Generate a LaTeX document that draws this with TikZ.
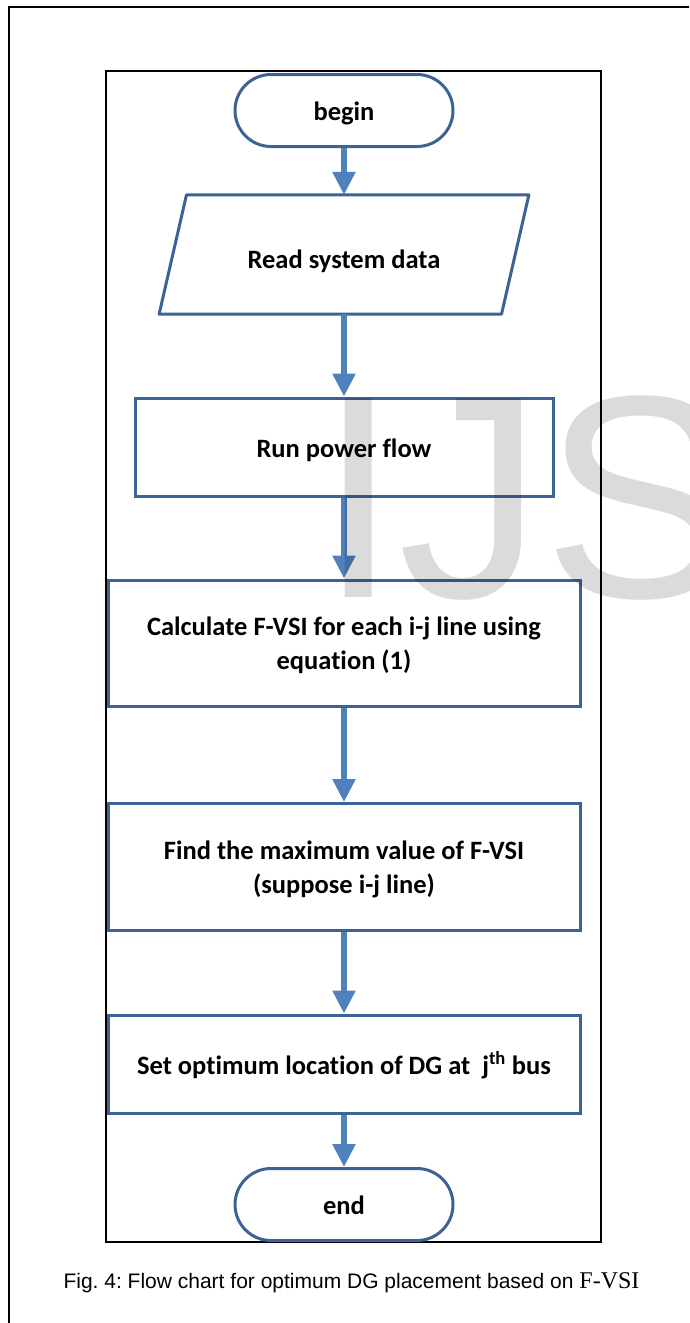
\documentclass[tikz,border=0pt]{standalone}
\usepackage{fontspec}
\setmainfont{Liberation Sans}
\newfontfamily\boxfont{Carlito}[Ligatures=NoCommon]
\newfontfamily\capserif{Liberation Serif}
\usetikzlibrary{arrows.meta}
\definecolor{shapeline}{HTML}{3C6395}
\definecolor{arrowblue}{HTML}{4F81BD}
\frenchspacing

\begin{document}
\begin{tikzpicture}[x=1pt,y=-1pt,
            terminal/.style={draw=shapeline,line width=3,rounded corners=36,minimum width=218,minimum height=72,
            inner sep=0,text height=20pt,text depth=0pt},
            io/.style={rectangle,inner sep=0,minimum width=342,minimum height=119,text height=28pt,text depth=0pt},
            process/.style={rectangle,draw=shapeline,line width=3,inner sep=0,align=center},
            flow/.style={arrowblue,line width=5.5,-{Triangle[width=22pt,length=23pt]}},
            every node/.style={font=\boxfont\bfseries\fontsize{26.5}{34}\selectfont}
            ]
            \def\cx{344}   % centre line of the chart
            \def\wb{472}   % width of the wide boxes
            \def\sk{13.7}  % half the slant of the input box

            \useasboundingbox (0,0) rectangle (689,1323);
            \clip (0,0) rectangle (689,1323);
            % page frame (runs off to the right and below) and the chart frame
            \draw[line width=2] (8.5,1340) |- (700,7);
            \draw[line width=2] (106,71) rectangle (601,1242);

            \node[terminal] (start) at (\cx,110.5) {begin};
            \node[io] (read) at (\cx,254.5) {Read system data};
            \draw[shapeline,line width=3,line join=round] ([xshift=\sk]read.north west) -- ([xshift=\sk]read.north east)
                -- ([xshift=-\sk]read.south east) -- ([xshift=-\sk]read.south west) -- cycle;
            \node[process,minimum width=418,minimum height=98,text height=20pt,text depth=0pt] (run) at (\cx,447) {Run power flow};
            \node[process,minimum width=\wb,minimum height=126,text depth=-2pt] (calc) at (\cx,643)
                {Calculate F-VSI for each i-j line using\\equation (1)};
            \node[process,minimum width=\wb,minimum height=127,text depth=-2pt] (find) at (\cx,867)
                {Find the maximum value of F-VSI\\(suppose i-j line)};
            \node[process,minimum width=\wb,minimum height=98,text height=20pt,text depth=0pt] (set) at (\cx,1064)
                {Set optimum location of DG at\ \ j\textsuperscript{th} bus};
            \node[terminal] (stop) at (\cx,1204.5) {end};

            \foreach \a/\b in {start/read,read/run,run/calc,calc/find,find/set,set/stop}
                \draw[flow] (\a) -- (\b);

            \node[anchor=base,inner sep=0,font=\fontsize{21}{25}\selectfont] (caption) at (351.5,1288)
                {Fig. 4: Flow chart for optimum DG placement based on {\capserif\fontsize{24}{25}\selectfont F-VSI}};

            % journal watermark on top of everything
            \node[anchor=base west,inner sep=0,font=\fontsize{289}{289}\selectfont,text=black,text opacity=0.14] (mark) at (318,597) {IJS};
        \end{tikzpicture}
\end{document}
